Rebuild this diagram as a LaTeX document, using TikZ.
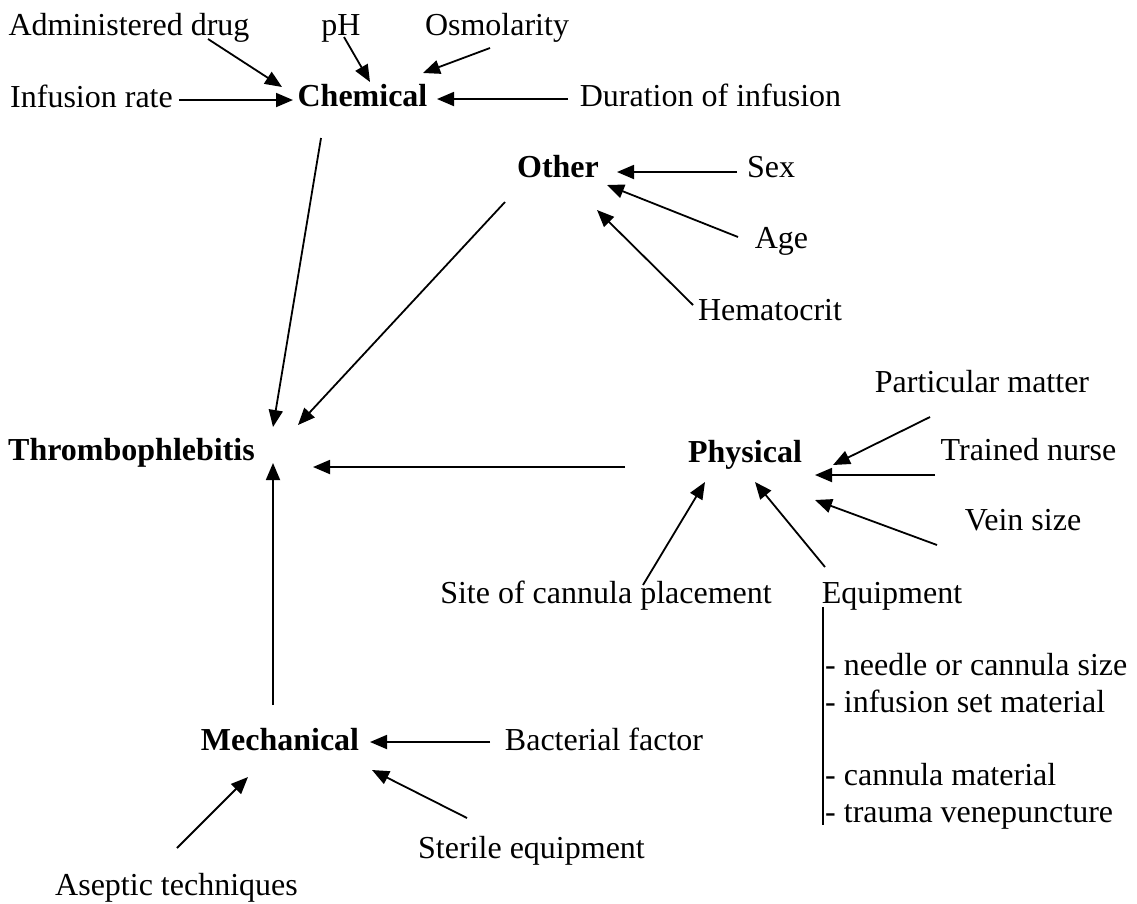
\documentclass[tikz,border=0pt]{standalone}
\usepackage{fontspec}
\setmainfont{Liberation Serif}
\usetikzlibrary{calc,arrows.meta}
\begin{document}
\begin{tikzpicture}[x=1pt,y=-1pt,
  lbl/.style={inner sep=0pt,font=\fontsize{32}{38}\selectfont,text height=22pt,text depth=7pt},
  hd/.style={lbl,font=\fontsize{32}{38}\selectfont\bfseries},
  item/.style={lbl,anchor=west},
  arr/.style={line width=1.8pt,-{Triangle[length=17pt,width=14pt]}},
  ln/.style={line width=1.8pt}]
\useasboundingbox (0,0) rectangle (1137,903);
% nodes
\node[lbl] (adm) at (129,27.5) {Administered drug};
\node[lbl] (ph) at (341,27.5) {pH};
\node[lbl] (osm) at (497,27.5) {Osmolarity};
\node[lbl] (infr) at (91.5,99.5) {Infusion rate};
\node[hd] (chem) at (362.5,98.5) {Chemical};
\node[lbl] (dur) at (710.5,98.5) {Duration of infusion};
\node[hd] (other) at (558,169.5) {Other};
\node[lbl] (sex) at (771,169.5) {Sex};
\node[lbl] (age) at (781.5,240.5) {Age};
\node[lbl] (hema) at (770,312.5) {Hematocrit};
\node[hd] (thr) at (131.5,452.5) {Thrombophlebitis};
\node[hd] (phys) at (745,454.5) {Physical};
\node[lbl] (part) at (982,384.5) {Particular matter};
\node[lbl] (nurse) at (1028.5,452.5) {Trained nurse};
\node[lbl] (vein) at (1023,522.5) {Vein size};
\node[lbl] (site) at (606,595.5) {Site of cannula placement};
\node[lbl] (equip) at (892,595.5) {Equipment};
\node[item] (needle) at (825,667.5) {- needle or cannula size};
\node[item] (infset) at (825,704.5) {- infusion set material};
\node[item] (cmat) at (825,777.5) {- cannula material};
\node[item] (trauma) at (825,814.5) {- trauma venepuncture};
\node[hd] (mech) at (280,742.5) {Mechanical};
\node[lbl] (bact) at (604,742.5) {Bacterial factor};
\node[lbl] (ster) at (531.5,850.5) {Sterile equipment};
\node[lbl] (asep) at (176.5,887.5) {Aseptic techniques};
% connectors
\draw[arr] ($(adm.center)+(79,11.5)$) -- ($(chem.center)+(-80.5,-11.5)$);
\draw[arr] ($(ph.center)+(3,9.5)$) -- ($(chem.center)+(7.5,-16.5)$);
\draw[arr] ($(osm.center)+(-7,20.5)$) -- ($(chem.center)+(60.5,-25.5)$);
\draw[arr] ($(infr.center)+(87.5,0.5)$) -- ($(chem.center)+(-69.5,1.5)$);
\draw[arr] ($(dur.center)+(-142.5,0.5)$) -- ($(chem.center)+(74.5,0.5)$);
\draw[arr] ($(chem.center)+(-41.5,39.5)$) -- ($(thr.center)+(141.5,-25.5)$);
\draw[arr] ($(other.center)+(-53,32.5)$) -- ($(thr.center)+(166.5,-27.5)$);
\draw[arr] ($(sex.center)+(-34,2.5)$) -- ($(other.center)+(59,2.5)$);
\draw[arr] ($(age.center)+(-43.5,-3.5)$) -- ($(other.center)+(49,15.5)$);
\draw[arr] ($(hema.center)+(-77,-7.5)$) -- ($(other.center)+(39,40.5)$);
\draw[arr] ($(phys.center)+(-120,12.5)$) -- ($(thr.center)+(181.5,14.5)$);
\draw[arr] ($(part.center)+(-52,32.5)$) -- ($(phys.center)+(88,10.5)$);
\draw[arr] ($(nurse.center)+(-93.5,22.5)$) -- ($(phys.center)+(70,20.5)$);
\draw[arr] ($(vein.center)+(-86,22.5)$) -- ($(phys.center)+(70,45.5)$);
\draw[arr] ($(site.center)+(37,-10.5)$) -- ($(phys.center)+(-40,27.5)$);
\draw[arr] ($(equip.center)+(-67,-28.5)$) -- ($(phys.center)+(10,27.5)$);
\draw[arr] ($(mech.center)+(-7,-37.5)$) -- ($(thr.center)+(141.5,10.5)$);
\draw[arr] ($(bact.center)+(-114,-0.5)$) -- ($(mech.center)+(90,-0.5)$);
\draw[arr] ($(ster.center)+(-64.5,-32.5)$) -- ($(mech.center)+(92,27.5)$);
\draw[arr] ($(asep.center)+(0.5,-39.5)$) -- ($(mech.center)+(-32,34.5)$);
\draw[ln] ($(equip.center)+(-69,11.5)$) -- ($(trauma.west)+(-2,10.5)$);
\end{tikzpicture}
\end{document}
